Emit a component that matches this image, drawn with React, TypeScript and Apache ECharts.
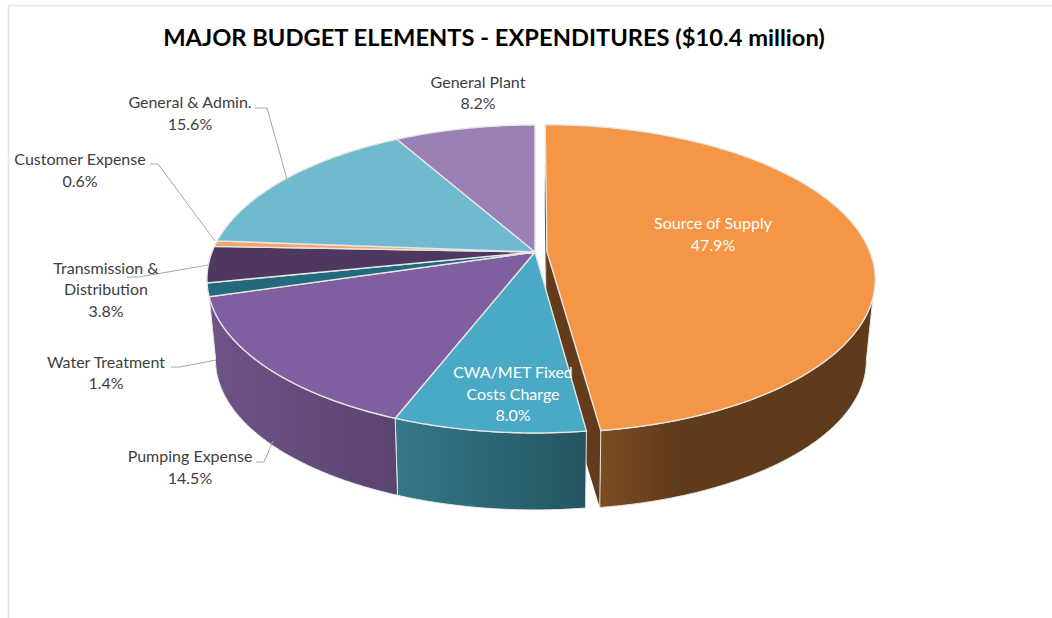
import React, { useEffect, useRef } from "react";
import * as echarts from "echarts";

const titleText = "MAJOR BUDGET ELEMENTS - EXPENDITURES ($10.4 million)";
const categories = [
  "Source of Supply",
  "CWA/MET Fixed\nCosts Charge",
  "Pumping Expense",
  "Water Treatment",
  "Transmission &\nDistribution",
  "Customer Expense",
  "General & Admin.",
  "General Plant",
];
const shares = [47.9, 8.0, 14.5, 1.4, 3.8, 0.6, 15.6, 8.2];
const explodedIndex = 0;

const topColors = ["#F49645", "#4AA9C4", "#7F5F9F", "#236A7D", "#4E3860", "#F2A56C", "#6FBACF", "#9A80B5"];
const wallLeft = ["#7C4B22", "#34788A", "#6F5389", "#236A7D", "#4E3860", "#F2A56C", "#6FBACF", "#9A80B5"];
const wallRight = ["#5F3A1B", "#245460", "#5A4470", "#236A7D", "#4E3860", "#F2A56C", "#6FBACF", "#9A80B5"];
const wallEvenStop = [0.3, 1, 1, 1, 1, 1, 1, 1];

const labelPos = [
  [713, 233.5], [513, 393], [190, 466.5], [106, 372], [106, 288.5], [80, 169.5], [190, 112.5], [478, 92],
];
const labelFill = ["#fff", "#fff", "#404040", "#404040", "#404040", "#404040", "#404040", "#404040"];
const leaders = [
  [[255, 108], [267, 108], [287, 179]],
  [[150, 164], [158, 164], [215, 241]],
  [[127, 277], [139, 277], [208, 265]],
  [[171, 367], [180, 367], [216, 360]],
  [[256, 462], [264, 462], [273, 441]],
];

const TOP = { cx: 535, cy: 252, A: 149.3, B: 323, k: 0.175 };
const BOTTOM = { cx: 535, cy: 332, A: 145, B: 314, k: 0.185 };
const EXPLODE = 0.037;
const total = shares.reduce((a, b) => a + b, 0);
const FONT = "Lato, 'Open Sans', sans-serif";
const EDGE = "#E6E6E6";

function range(i: number) {
  let s = 0;
  for (let j = 0; j < i; j++) s += shares[j];
  return [(s / total) * 360, ((s + shares[i]) / total) * 360];
}

function project(deg: number, r: number, p: typeof TOP, i: number) {
  const t = (deg * Math.PI) / 180;
  let u = r * Math.sin(t);
  let v = -r * Math.cos(t);
  if (i === explodedIndex) {
    const [a, b] = range(i);
    const m = (((a + b) / 2) * Math.PI) / 180;
    u += EXPLODE * Math.sin(m);
    v -= EXPLODE * Math.cos(m);
  }
  const w = 1 - p.k * v;
  return [p.cx + (p.B * u) / w, p.cy + (p.A * v) / w];
}

function arc(a: number, b: number, p: typeof TOP, i: number) {
  const pts: number[][] = [];
  const n = Math.max(2, Math.ceil((b - a) * 1.5));
  for (let j = 0; j <= n; j++) pts.push(project(a + ((b - a) * j) / n, 1, p, i));
  return pts;
}

const VIS_TOP: [number, number] = [107, 253.4];
const VIS_BOT: [number, number] = [101, 260];

function renderSide(params: any) {
  const i = params.dataIndex;
  const [a, b] = range(i);
  const children: any[] = [];
  if (i === explodedIndex) {
    const faces = [a, b].map((d) => [
      project(d, 0, TOP, i),
      project(d, 1, TOP, i),
      project(d, 1, BOTTOM, i),
      project(d, 0, BOTTOM, i),
    ]);
    faces.forEach((pts) =>
      children.push({ type: "polygon", shape: { points: pts }, style: { fill: "#643C1C", stroke: "none" } })
    );
  }
  const ta = Math.max(a, VIS_TOP[0]);
  const tb = Math.min(b, VIS_TOP[1]);
  if (tb > ta) {
    const ba = a < VIS_TOP[0] ? Math.max(a, VIS_BOT[0]) : a;
    const bb = b >= VIS_TOP[1] ? VIS_BOT[1] : b;
    const pts = [...arc(ta, tb, TOP, i), ...arc(ba, bb, BOTTOM, i).reverse()];
    children.push({
      type: "polygon",
      shape: { points: pts },
      style: {
        // stops run along x, i.e. across the wall's bounding box
        fill: new echarts.graphic.LinearGradient(0, 0, 1, 0, [
          { offset: 0, color: wallLeft[i] },
          { offset: wallEvenStop[i], color: wallRight[i] },
          { offset: 1, color: wallRight[i] },
        ]),
        stroke: EDGE,
        lineWidth: 1,
      },
    });
  }
  return { type: "group", children };
}

function renderTop(params: any) {
  const i = params.dataIndex;
  const [a, b] = range(i);
  const pts = [project(a, 0, TOP, i), ...arc(a, b, TOP, i)];
  return {
    type: "polygon",
    shape: { points: pts },
    style: { fill: topColors[i], stroke: EDGE, lineWidth: 1.4 },
  };
}

export default function App() {
  const ref = useRef<HTMLDivElement>(null);
  useEffect(() => {
    const chart = echarts.init(ref.current!, null, { renderer: "svg" });
    const graphic: any[] = [
      { type: "line", silent: true, shape: { x1: 8.5, y1: 5.5, x2: 8.5, y2: 618 }, style: { stroke: "#E4E4E4", lineWidth: 1.6 } },
      { type: "line", silent: true, shape: { x1: 8.5, y1: 5.5, x2: 1052, y2: 5.5 }, style: { stroke: "#E4E4E4", lineWidth: 1.6 } },
      {
        type: "text",
        silent: true,
        z: 10,
        style: { text: titleText, x: 494, y: 36.5, textAlign: "center", textVerticalAlign: "middle", font: `bold 23.7px ${FONT}`, fill: "#000" },
      },
      ...leaders.map((pts) => ({
        type: "polyline",
        silent: true,
        z: 5,
        shape: { points: pts },
        style: { stroke: "#A6A6A6", lineWidth: 1, fill: "none" },
      })),
      ...categories.map((c, i) => ({
        type: "text",
        silent: true,
        z: 10,
        style: {
          text: `${c}\n${shares[i].toFixed(1)}%`,
          x: labelPos[i][0],
          y: labelPos[i][1],
          textAlign: "center",
          textVerticalAlign: "middle",
          font: `16px ${FONT}`,
          lineHeight: 21.5,
          fill: labelFill[i],
        },
      })),
    ];
    chart.setOption({
      animation: false,
      backgroundColor: "#fff",
      graphic,
      series: [
        { type: "custom", coordinateSystem: "none", silent: true, z: 1, renderItem: renderSide, data: shares },
        { type: "custom", coordinateSystem: "none", silent: true, z: 2, renderItem: renderTop, data: shares },
      ],
    });
    return () => chart.dispose();
  }, []);
  return <div ref={ref} style={{ position: "fixed", left: 0, top: 0, width: 1052, height: 618 }} />;
}
